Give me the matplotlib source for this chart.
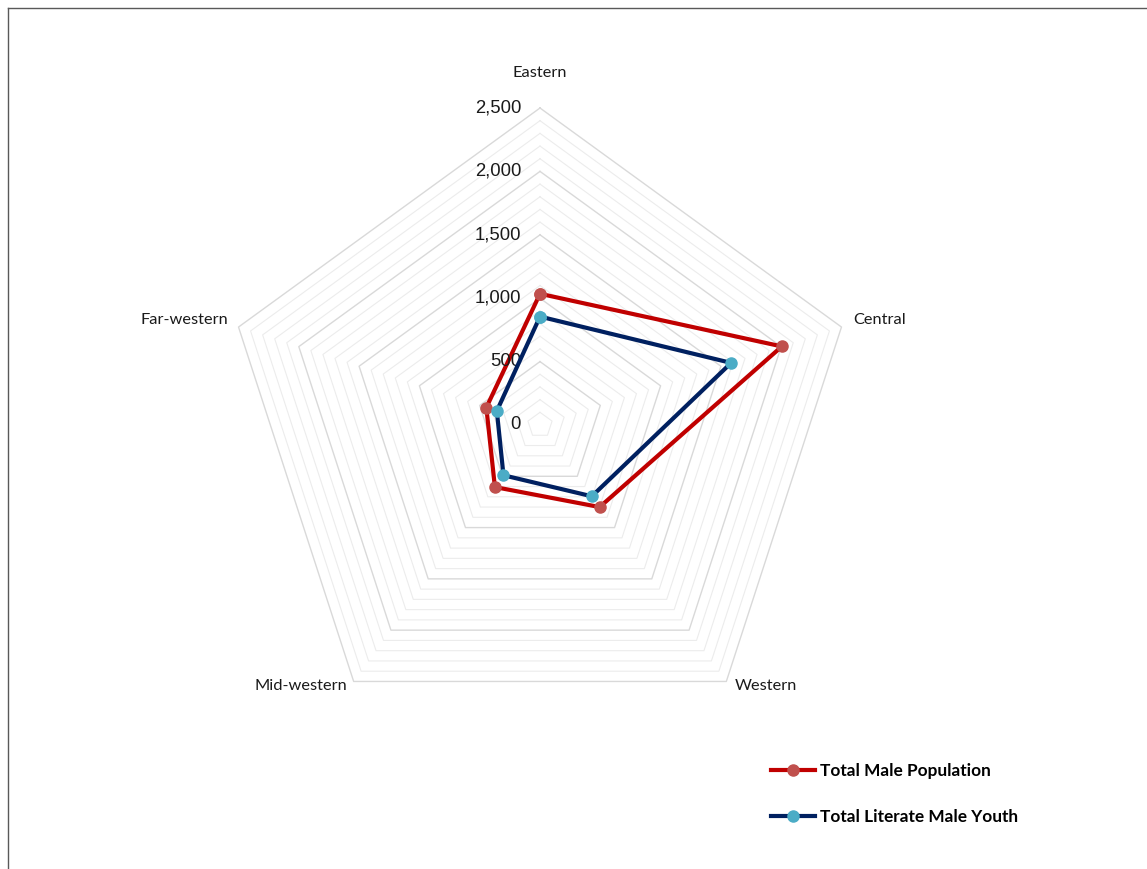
import matplotlib
matplotlib.use('Agg')
import matplotlib.pyplot as plt
import numpy as np

# data
regions = ['Eastern', 'Central', 'Western', 'Mid-western', 'Far-western']
male_pop = [1035, 2005, 800, 605, 445]
literate_youth = [855, 1585, 695, 490, 358]
tick_values = [0, 500, 1000, 1500, 2000, 2500]
series_names = ['Total Male Population', 'Total Literate Male Youth']

plt.rcParams['font.family'] = ['Lato', 'DejaVu Sans']

fig = plt.figure(figsize=(11.47, 8.69), dpi=100, facecolor='white')

# polar axes: centre at (540, 425) px, radius 317 px
cx, cy, rad = 540 / 1147, 1 - 425 / 869, 317
w, h = rad / 1147, rad / 869
ax = fig.add_axes([cx - w, cy - h, 2 * w, 2 * h], projection='polar')
ax.set_theta_offset(np.pi / 2)
ax.set_theta_direction(-1)
ax.set_ylim(0, 2500)
ax.grid(False)
ax.set_xticks([])
ax.set_yticks([])
ax.spines['polar'].set_visible(False)
ax.patch.set_alpha(0)

n = len(regions)
angles = np.linspace(0, 2 * np.pi, n, endpoint=False)
closed = np.append(angles, angles[0])

# pentagon gridlines (minor every 100, major every 500)
for r in range(100, 2501, 100):
    major = r % 500 == 0
    ax.plot(closed, [r] * (n + 1), color='#d9d9d9' if major else '#ececec',
            lw=1.0 if major else 0.8, zorder=1, clip_on=False)

# series
ax.plot(closed, male_pop + male_pop[:1], color='#c00000', lw=3,
        marker='o', markersize=8, markerfacecolor='#c0504d', markeredgecolor='#c0504d',
        zorder=3, clip_on=False, label=series_names[0])
ax.plot(closed, literate_youth + literate_youth[:1], color='#002060', lw=3,
        marker='o', markersize=8, markerfacecolor='#4bacc6', markeredgecolor='#4bacc6',
        zorder=4, clip_on=False, label=series_names[1])

# value labels along the Eastern axis
for v in tick_values:
    ax.annotate(f'{v:,}', xy=(0, v), xytext=(-19, 0), textcoords='offset pixels',
                ha='right', va='center', fontsize=13.3, color='#1a1a1a',
                family=['Liberation Sans', 'DejaVu Sans'])

# category labels
label_pos = [((0, 35), 'center'), ((12, 7), 'left'), ((8, -5), 'left'),
             ((-6, -5), 'right'), ((-10, 7), 'right')]
for ang, name, (off, ha) in zip(angles, regions, label_pos):
    ax.annotate(name, xy=(ang, 2500), xytext=off, textcoords='offset pixels',
                ha=ha, va='center', fontsize=11.8, color='#1a1a1a')

leg = fig.legend(loc='upper left', bbox_to_anchor=(0.659, 0.140), frameon=False,
                 handlelength=2.55, handletextpad=0.28, labelspacing=1.75,
                 prop={'family': 'Lato', 'weight': 'bold', 'size': 12.4})

# chart frame (cropped on right and bottom)
fig.add_artist(plt.Line2D([8 / 1147, 8 / 1147], [0, 1 - 8 / 869],
                          transform=fig.transFigure, color='#595959', lw=1))
fig.add_artist(plt.Line2D([8 / 1147, 1], [1 - 8 / 869, 1 - 8 / 869],
                          transform=fig.transFigure, color='#595959', lw=1))

fig.savefig('out.png', dpi=100, facecolor='white')
